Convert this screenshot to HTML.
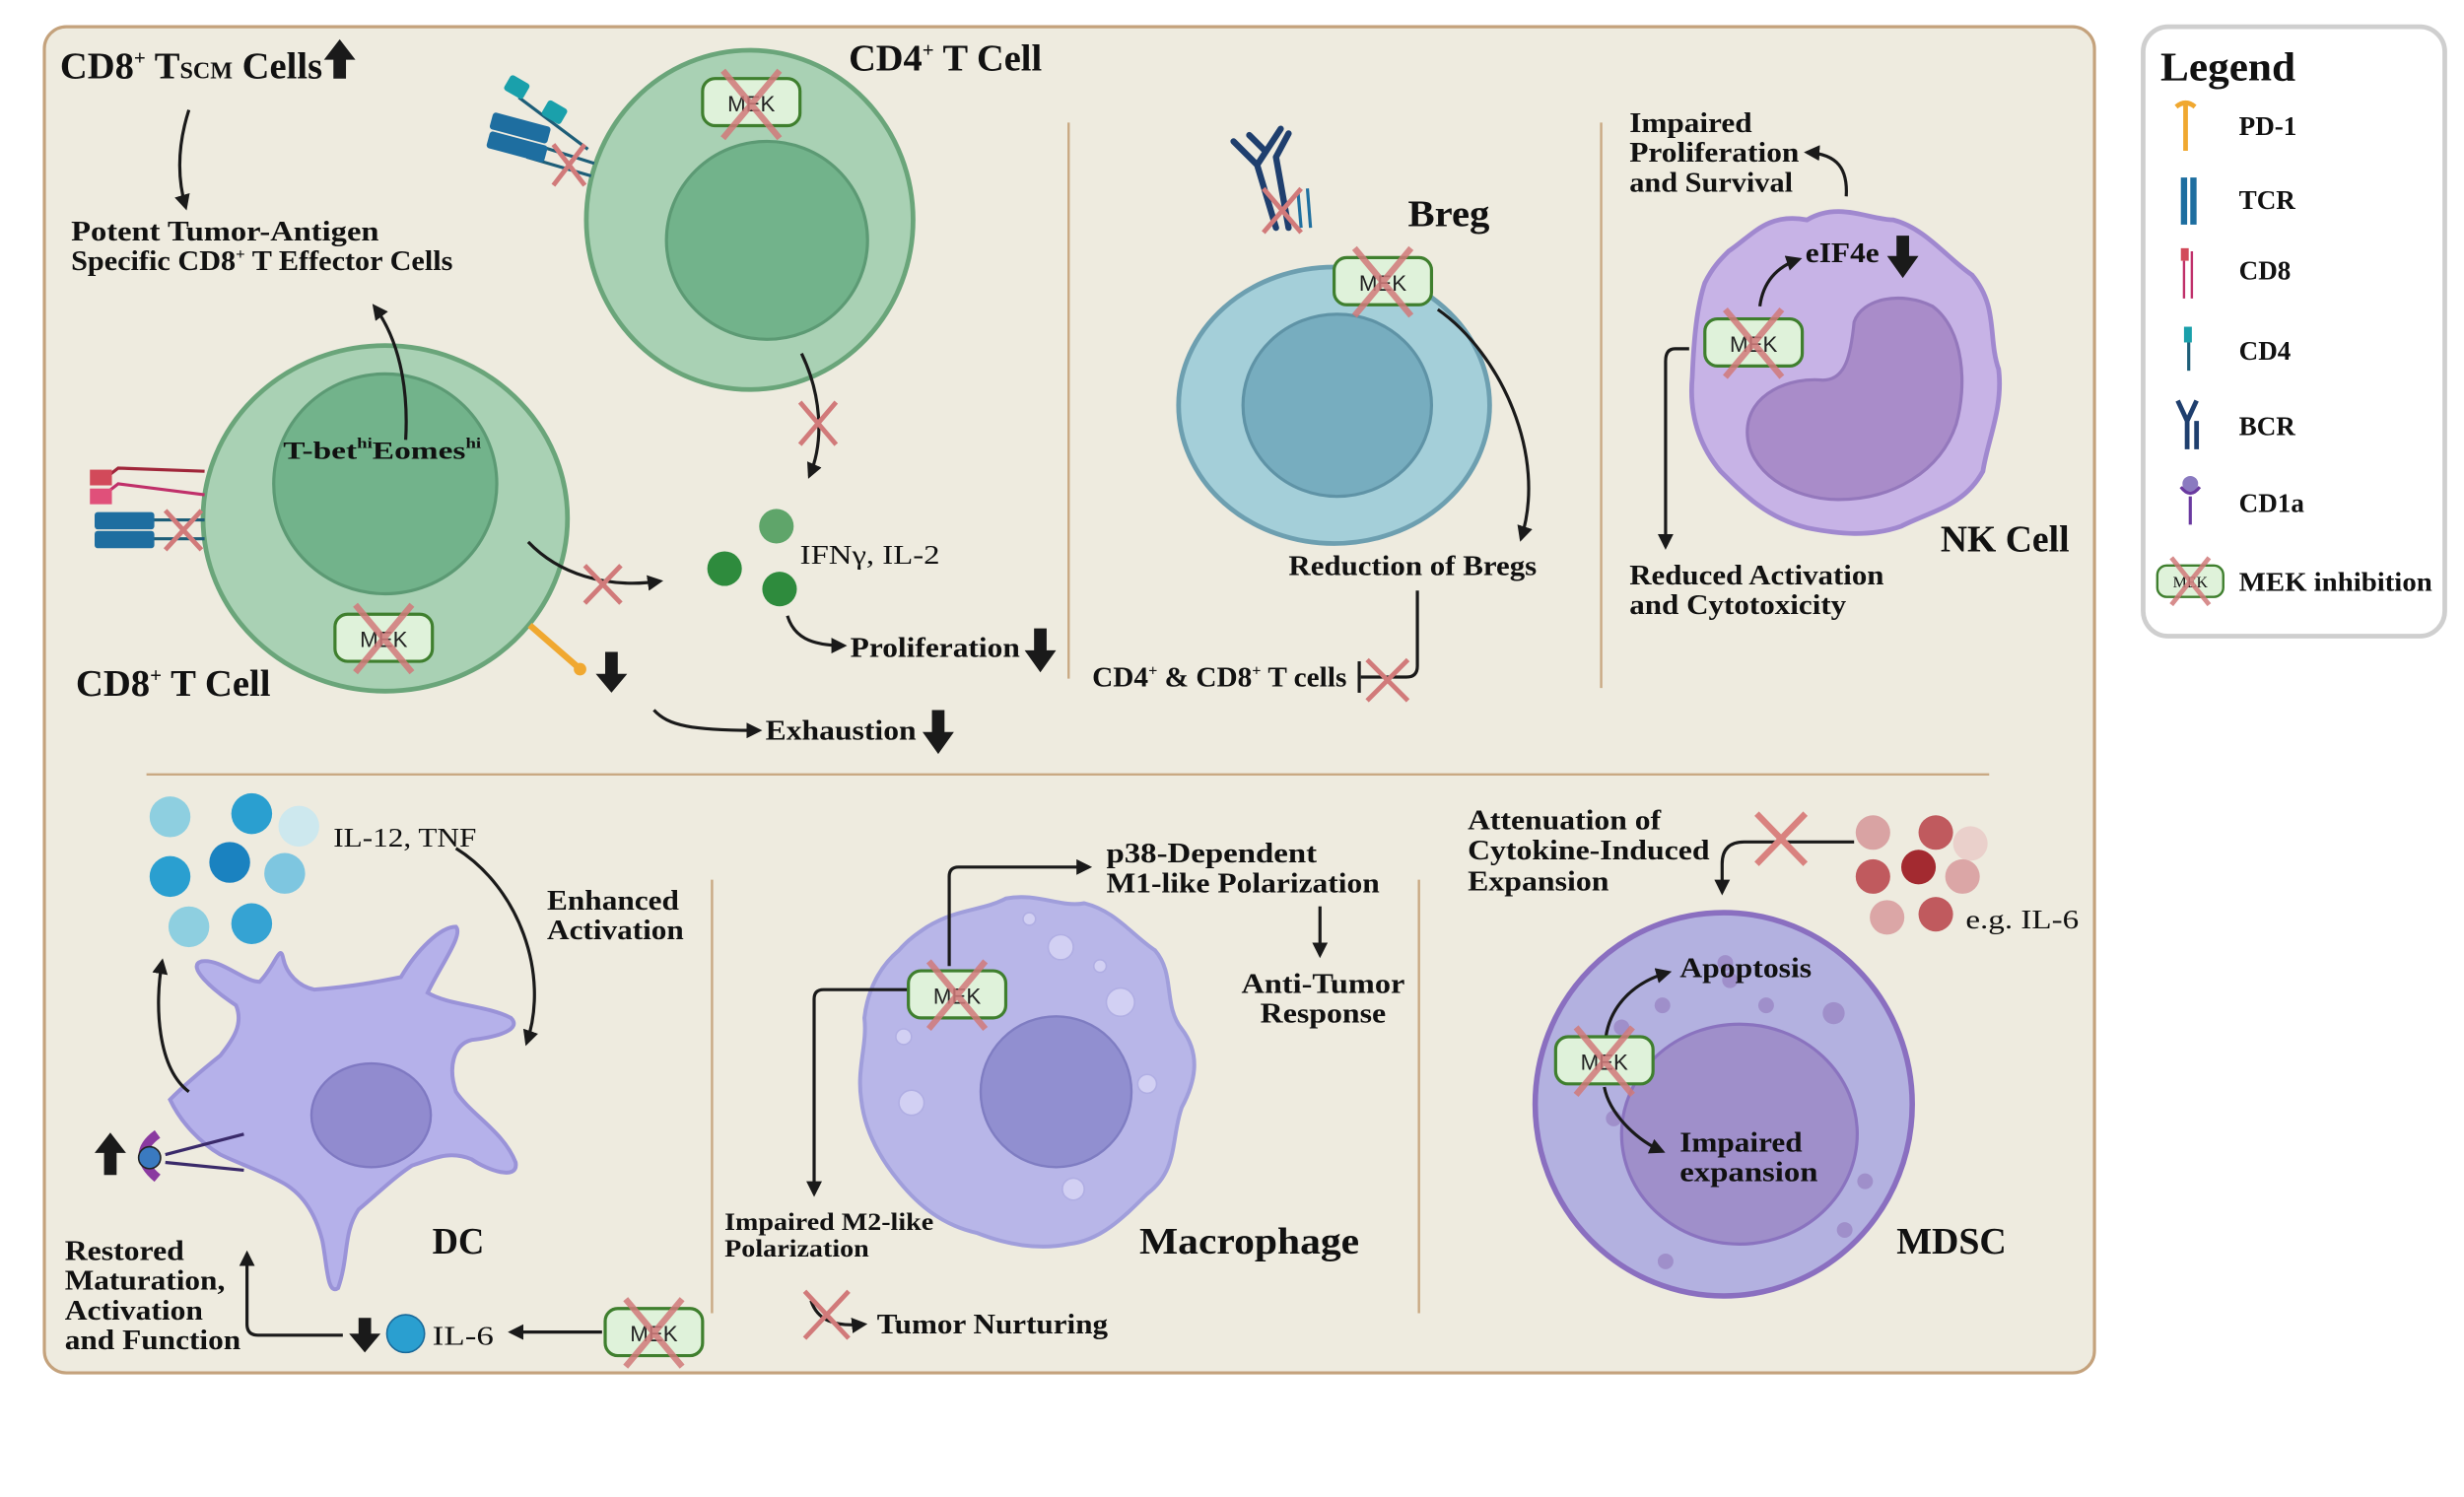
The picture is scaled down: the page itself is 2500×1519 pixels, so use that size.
<!DOCTYPE html>
<html><head><meta charset="utf-8"><style>
html,body{margin:0;padding:0;background:#fff;width:2500px;height:1519px;overflow:hidden}
svg{display:block}
text{font-family:"Liberation Serif",serif;fill:#111}
.b{font-weight:bold}
.m{font-family:"Liberation Sans",sans-serif;font-size:14px;fill:#222}
</style></head><body>
<svg width="2500" height="1519" viewBox="0 0 1568 953" xmlns="http://www.w3.org/2000/svg">
<defs>
<marker id="a" viewBox="0 0 10 10" refX="8" refY="5" markerWidth="5" markerHeight="5" orient="auto"><path d="M0,0L10,5L0,10z" fill="#1a1a1a"/></marker>
</defs>
<rect x="28" y="17" width="1305" height="857" rx="14" fill="#eeebdf" stroke="#c4a27c" stroke-width="2"/>
<g stroke="#c9a983" stroke-width="1.5">
<line x1="680" y1="78" x2="680" y2="432"/><line x1="1019" y1="78" x2="1019" y2="438"/>
<line x1="93" y1="493" x2="1266" y2="493"/>
<line x1="453" y1="560" x2="453" y2="836"/><line x1="903" y1="560" x2="903" y2="836"/>
</g>

<text x="38" y="50" class="b" font-size="24" textLength="167" lengthAdjust="spacingAndGlyphs">CD8<tspan font-size="13" dy="-9">+</tspan><tspan dy="9"> T</tspan><tspan font-size="15">SCM</tspan> Cells</text>
<path d="M212,50V38h-6l10,-13l10,13h-6v12z" fill="#1a1a1a"/>
<path d="M120,70C112,95 113,115 118,132" stroke="#1a1a1a" stroke-width="2" fill="none" marker-end="url(#a)"/>
<text x="45" y="153" class="b" font-size="18" textLength="196" lengthAdjust="spacingAndGlyphs">Potent Tumor-Antigen</text>
<text x="45" y="172" class="b" font-size="18" textLength="243" lengthAdjust="spacingAndGlyphs">Specific CD8<tspan font-size="10" dy="-7">+</tspan><tspan dy="7"> T Effector Cells</tspan></text>

<ellipse cx="477" cy="140" rx="104" ry="108" fill="#a9d1b4" stroke="#6aa57a" stroke-width="3"/>
<ellipse cx="488" cy="153" rx="64" ry="63" fill="#72b38b" stroke="#5c9a74" stroke-width="2"/>
<text x="540" y="45" class="b" font-size="24" textLength="123" lengthAdjust="spacingAndGlyphs">CD4<tspan font-size="13" dy="-9">+</tspan><tspan dy="9"> T Cell</tspan></text>
<rect x="447" y="50" width="62" height="30" rx="8" fill="#dff2da" stroke="#3f7f2e" stroke-width="2"/>
<text x="478" y="71" class="m" text-anchor="middle">MEK</text>
<path d="M460,45L496,88M496,45L460,88" stroke="#d17a7a" stroke-width="4" opacity=".85"/>
<g stroke="#1e5e78" stroke-width="2"><line x1="330" y1="62" x2="374" y2="95"/><line x1="340" y1="92" x2="378" y2="104"/><line x1="335" y1="100" x2="376" y2="112"/></g>
<g fill="#1aa0ab"><rect x="322" y="50" width="14" height="11" rx="2" transform="rotate(30 329 55)"/><rect x="346" y="66" width="14" height="11" rx="2" transform="rotate(30 353 71)"/></g>
<g fill="#1e6ea0"><rect x="312" y="76" width="38" height="11" rx="2" transform="rotate(15 331 81)"/><rect x="310" y="88" width="38" height="11" rx="2" transform="rotate(15 329 93)"/></g>
<path d="M352,92L372,118M372,92L352,118" stroke="#d17a7a" stroke-width="3"/>
<path d="M510,225C522,250 525,280 515,303" stroke="#1a1a1a" stroke-width="2" fill="none" marker-end="url(#a)"/>
<path d="M509,256L532,283M532,256L509,283" stroke="#d17a7a" stroke-width="3"/>

<ellipse cx="245" cy="330" rx="116" ry="110" fill="#a9d1b4" stroke="#6aa57a" stroke-width="3"/>
<ellipse cx="245" cy="308" rx="71" ry="70" fill="#72b38b" stroke="#5c9a74" stroke-width="2"/>
<path d="M258,280C260,245 253,215 238,195" stroke="#1a1a1a" stroke-width="2" fill="none" marker-end="url(#a)"/>
<text x="180" y="292" class="b" font-size="16" textLength="126" lengthAdjust="spacingAndGlyphs">T-bet<tspan font-size="9" dy="-7">hi</tspan><tspan dy="7">Eomes</tspan><tspan font-size="9" dy="-7">hi</tspan></text>
<rect x="213" y="391" width="62" height="30" rx="8" fill="#dff2da" stroke="#3f7f2e" stroke-width="2"/>
<text x="244" y="412" class="m" text-anchor="middle">MEK</text>
<path d="M226,385L262,428M262,385L226,428" stroke="#d17a7a" stroke-width="4" opacity=".85"/>
<text x="48" y="443" class="b" font-size="24" textLength="124" lengthAdjust="spacingAndGlyphs">CD8<tspan font-size="13" dy="-9">+</tspan><tspan dy="9"> T Cell</tspan></text>
<g stroke="#a0263a" stroke-width="2" fill="none"><path d="M66,305L75,298L130,300"/><path d="M66,315L75,308L130,315" stroke="#c0306a"/></g>
<rect x="57" y="299" width="14" height="10" fill="#d24a5a"/><rect x="57" y="311" width="14" height="10" fill="#e0507a"/>
<g stroke="#1e5e78" stroke-width="2"><line x1="95" y1="331" x2="130" y2="331"/><line x1="95" y1="343" x2="130" y2="343"/></g>
<rect x="60" y="326" width="38" height="11" rx="2" fill="#1e6ea0"/><rect x="60" y="338" width="38" height="11" rx="2" fill="#1e6ea0"/>
<path d="M105,325L128,350M128,325L105,350" stroke="#d17a7a" stroke-width="3"/>
<path d="M336,345C355,365 385,375 420,370" stroke="#1a1a1a" stroke-width="2" fill="none" marker-end="url(#a)"/>
<path d="M372,360L395,384M395,360L372,384" stroke="#d17a7a" stroke-width="3"/>
<line x1="337" y1="398" x2="368" y2="425" stroke="#f0a830" stroke-width="4"/><circle cx="369" cy="426" r="4" fill="#f0a830"/>
<path d="M385,415h8v14h6l-10,12l-10,-12h6z" fill="#1a1a1a"/>
<circle cx="494" cy="335" r="11" fill="#5fa56a"/><circle cx="461" cy="362" r="11" fill="#2e8b3d"/><circle cx="496" cy="375" r="11" fill="#2e8b3d"/>
<text x="509" y="359" font-size="17" textLength="89" lengthAdjust="spacingAndGlyphs">IFNγ, IL-2</text>
<path d="M501,392C505,405 515,411 537,411" stroke="#1a1a1a" stroke-width="2" fill="none" marker-end="url(#a)"/>
<text x="541" y="418" class="b" font-size="18" textLength="108" lengthAdjust="spacingAndGlyphs">Proliferation</text>
<path d="M658,400h8v14h6l-10,14l-10,-14h6z" fill="#1a1a1a"/>
<path d="M416,452C425,462 440,465 483,465" stroke="#1a1a1a" stroke-width="2" fill="none" marker-end="url(#a)"/>
<text x="487" y="471" class="b" font-size="18" textLength="96" lengthAdjust="spacingAndGlyphs">Exhaustion</text>
<path d="M593,452h8v14h6l-10,14l-10,-14h6z" fill="#1a1a1a"/>

<ellipse cx="849" cy="258" rx="99" ry="88" fill="#a4cfd9" stroke="#6d9fb0" stroke-width="3"/>
<ellipse cx="851" cy="258" rx="60" ry="58" fill="#77adbf" stroke="#5f93a6" stroke-width="2"/>
<text x="896" y="144" class="b" font-size="24" textLength="52" lengthAdjust="spacingAndGlyphs">Breg</text>
<g stroke="#1f3f6e" stroke-width="4" fill="none" stroke-linecap="round"><path d="M785,90L800,105L815,82M800,105L812,145"/><path d="M795,86L805,96M820,85L812,100M812,100L820,145"/></g>
<g stroke="#2070a0" stroke-width="2"><line x1="826" y1="122" x2="828" y2="145"/><line x1="832" y1="120" x2="834" y2="145"/></g>
<path d="M804,120L828,148M828,120L804,148" stroke="#d17a7a" stroke-width="3"/>
<rect x="849" y="164" width="62" height="30" rx="8" fill="#dff2da" stroke="#3f7f2e" stroke-width="2"/>
<text x="880" y="185" class="m" text-anchor="middle">MEK</text>
<path d="M862,158L898,201M898,158L862,201" stroke="#d17a7a" stroke-width="4" opacity=".85"/>
<path d="M915,197C955,225 985,290 968,343" stroke="#1a1a1a" stroke-width="2" fill="none" marker-end="url(#a)"/>
<text x="820" y="366" class="b" font-size="18" textLength="158" lengthAdjust="spacingAndGlyphs">Reduction of Bregs</text>
<path d="M902,376V424Q902,431 895,431H866" stroke="#1a1a1a" stroke-width="2" fill="none"/>
<line x1="865" y1="421" x2="865" y2="441" stroke="#1a1a1a" stroke-width="2"/>
<path d="M870,420L896,446M896,420L870,446" stroke="#d17a7a" stroke-width="3"/>
<text x="695" y="437" class="b" font-size="18" textLength="162" lengthAdjust="spacingAndGlyphs">CD4<tspan font-size="10" dy="-7">+</tspan><tspan dy="7"> &amp; CD8</tspan><tspan font-size="10" dy="-7">+</tspan><tspan dy="7"> T cells</tspan></text>

<path d="M1100,160C1115,150 1125,135 1150,140C1170,128 1190,140 1205,140C1225,145 1240,165 1255,175C1272,195 1265,215 1272,235C1275,260 1265,280 1262,300C1250,322 1230,325 1210,335C1190,342 1170,340 1150,336C1125,330 1110,315 1095,300C1080,282 1075,262 1077,240C1078,215 1080,195 1085,180C1090,170 1095,165 1100,160Z" fill="#c7b3e6" stroke="#a088cf" stroke-width="3"/>
<path d="M1180,205C1185,190 1210,185 1230,195C1250,210 1252,245 1245,270C1235,300 1205,318 1170,318C1140,318 1112,300 1112,275C1112,250 1140,240 1160,242C1175,242 1178,225 1180,205Z" fill="#a98cc9" stroke="#9478bc" stroke-width="2"/>
<text x="1235" y="351" class="b" font-size="24" textLength="82" lengthAdjust="spacingAndGlyphs">NK Cell</text>
<text x="1037" y="84" class="b" font-size="18" textLength="78" lengthAdjust="spacingAndGlyphs">Impaired</text>
<text x="1037" y="103" class="b" font-size="18" textLength="108" lengthAdjust="spacingAndGlyphs">Proliferation</text>
<text x="1037" y="122" class="b" font-size="18" textLength="104" lengthAdjust="spacingAndGlyphs">and Survival</text>
<path d="M1175,125C1176,108 1170,98 1150,97" stroke="#1a1a1a" stroke-width="2" fill="none" marker-end="url(#a)"/>
<text x="1149" y="167" class="b" font-size="18" textLength="47" lengthAdjust="spacingAndGlyphs">eIF4e</text>
<path d="M1120,195C1122,180 1130,170 1145,165" stroke="#1a1a1a" stroke-width="2" fill="none" marker-end="url(#a)"/>
<path d="M1207,150h8v13h6l-10,14l-10,-14h6z" fill="#1a1a1a"/>
<rect x="1085" y="203" width="62" height="30" rx="8" fill="#dff2da" stroke="#3f7f2e" stroke-width="2"/>
<text x="1116" y="224" class="m" text-anchor="middle">MEK</text>
<path d="M1098,197L1134,240M1134,197L1098,240" stroke="#d17a7a" stroke-width="4" opacity=".85"/>
<path d="M1075,222H1066Q1060,222 1060,230V348" stroke="#1a1a1a" stroke-width="2" fill="none" marker-end="url(#a)"/>
<text x="1037" y="372" class="b" font-size="18" textLength="162" lengthAdjust="spacingAndGlyphs">Reduced Activation</text>
<text x="1037" y="391" class="b" font-size="18" textLength="138" lengthAdjust="spacingAndGlyphs">and Cytotoxicity</text>

<rect x="1364" y="17" width="192" height="388" rx="16" fill="#fff" stroke="#cfcfcf" stroke-width="3"/>
<text x="1375" y="51" class="b" font-size="26" textLength="86" lengthAdjust="spacingAndGlyphs">Legend</text>
<line x1="1391" y1="66" x2="1391" y2="96" stroke="#f0a830" stroke-width="3"/><path d="M1385,68Q1391,63 1397,68" stroke="#f0a830" stroke-width="3" fill="none"/>
<rect x="1388" y="113" width="4" height="30" fill="#1e6ea0"/><rect x="1394" y="113" width="4" height="30" fill="#1e6ea0"/>
<rect x="1388" y="158" width="5" height="8" fill="#d24a5a"/><path d="M1390,166V190M1395,160L1395,190" stroke="#c0306a" stroke-width="1.5"/>
<rect x="1390" y="208" width="5" height="10" fill="#1aa0ab"/><line x1="1393" y1="218" x2="1393" y2="236" stroke="#1e5e78" stroke-width="2"/>
<path d="M1386,255L1392,268L1398,255M1392,268V286M1398,268V286" stroke="#1f3f6e" stroke-width="3" fill="none"/>
<circle cx="1394" cy="308" r="5" fill="#8a7ac0"/><path d="M1388,310Q1394,318 1400,310" stroke="#6a3aa0" stroke-width="2" fill="none"/><line x1="1394" y1="316" x2="1394" y2="334" stroke="#6a3aa0" stroke-width="2"/>
<rect x="1373" y="360" width="42" height="20" rx="6" fill="#dff2da" stroke="#3f7f2e" stroke-width="1.5"/>
<text x="1394" y="374" font-family="Liberation Sans" font-size="10" text-anchor="middle" fill="#222">MEK</text>
<path d="M1382,355L1406,385M1406,355L1382,385" stroke="#d17a7a" stroke-width="3" opacity=".85"/>
<g class="b" font-size="17"><text x="1425" y="86" class="b">PD-1</text><text x="1425" y="133" class="b">TCR</text><text x="1425" y="178" class="b">CD8</text><text x="1425" y="229" class="b">CD4</text><text x="1425" y="277" class="b">BCR</text><text x="1425" y="326" class="b">CD1a</text><text x="1425" y="376" class="b" textLength="123" lengthAdjust="spacingAndGlyphs">MEK inhibition</text></g>

<circle cx="108" cy="520" r="13" fill="#8ecfe0"/><circle cx="160" cy="518" r="13" fill="#2a9fd0"/><circle cx="190" cy="526" r="13" fill="#cde8ee"/>
<circle cx="108" cy="558" r="13" fill="#2a9fd0"/><circle cx="146" cy="549" r="13" fill="#1a82c0"/><circle cx="181" cy="556" r="13" fill="#7ec6e0"/>
<circle cx="120" cy="590" r="13" fill="#8ecfe0"/><circle cx="160" cy="588" r="13" fill="#35a3d3"/>
<text x="212" y="539" font-size="17" textLength="91" lengthAdjust="spacingAndGlyphs">IL-12, TNF</text>
<path d="M290,540C330,565 350,620 335,664" stroke="#1a1a1a" stroke-width="2" fill="none" marker-end="url(#a)"/>
<text x="348" y="579" class="b" font-size="18" textLength="84" lengthAdjust="spacingAndGlyphs">Enhanced</text>
<text x="348" y="598" class="b" font-size="18" textLength="87" lengthAdjust="spacingAndGlyphs">Activation</text>
<path d="M150,640C135,630 118,615 128,612C140,610 155,625 165,625C175,615 178,600 180,610C182,620 190,628 200,630C225,628 240,625 255,622C265,605 280,590 290,590C295,595 280,615 272,632C285,640 310,640 325,648C332,655 318,660 300,662C288,665 285,680 290,695C300,710 320,720 328,740C330,752 310,745 300,738C285,732 275,738 262,742C250,750 240,760 228,770C218,785 222,800 215,820C208,825 208,805 205,790C200,770 190,758 178,752C165,745 150,740 140,735C128,728 115,715 108,700C118,690 130,680 140,672C148,662 155,652 150,640Z" fill="#b5b1ea" stroke="#9a93d8" stroke-width="2.5"/>
<ellipse cx="236" cy="710" rx="38" ry="33" fill="#918bcf" stroke="#7f79c2" stroke-width="1.5"/>
<path d="M120,695C100,680 98,640 103,612" stroke="#1a1a1a" stroke-width="2" fill="none" marker-end="url(#a)"/>
<path d="M66,748v-14h-6l10,-13l10,13h-6v14z" fill="#1a1a1a"/>
<line x1="105" y1="735" x2="155" y2="722" stroke="#3a2a6a" stroke-width="2"/><line x1="105" y1="740" x2="155" y2="745" stroke="#3a2a6a" stroke-width="2"/>
<path d="M100,722Q82,735 100,750" stroke="#8a3aa0" stroke-width="6" fill="none"/>
<circle cx="95" cy="737" r="7" fill="#3a7ac0" stroke="#222" stroke-width="1"/>
<text x="275" y="798" class="b" font-size="24" textLength="33" lengthAdjust="spacingAndGlyphs">DC</text>
<text x="41" y="802" class="b" font-size="18" textLength="76" lengthAdjust="spacingAndGlyphs">Restored</text>
<text x="41" y="821" class="b" font-size="18" textLength="102" lengthAdjust="spacingAndGlyphs">Maturation,</text>
<text x="41" y="840" class="b" font-size="18" textLength="88" lengthAdjust="spacingAndGlyphs">Activation</text>
<text x="41" y="859" class="b" font-size="18" textLength="112" lengthAdjust="spacingAndGlyphs">and Function</text>
<path d="M218,850H164Q157,850 157,843V798" stroke="#1a1a1a" stroke-width="2" fill="none" marker-end="url(#a)"/>
<path d="M228,839h8v10h6l-10,12l-10,-12h6z" fill="#1a1a1a"/>
<circle cx="258" cy="849" r="12" fill="#2a9fd0" stroke="#1a6a9a" stroke-width="1"/>
<text x="275" y="856" font-size="17" textLength="39" lengthAdjust="spacingAndGlyphs">IL-6</text>
<line x1="383" y1="848" x2="325" y2="848" stroke="#1a1a1a" stroke-width="2" marker-end="url(#a)"/>
<rect x="385" y="833" width="62" height="30" rx="8" fill="#dff2da" stroke="#3f7f2e" stroke-width="2"/>
<text x="416" y="854" class="m" text-anchor="middle">MEK</text>
<path d="M398,827L434,870M434,827L398,870" stroke="#d17a7a" stroke-width="4" opacity=".85"/>

<path d="M590,590C610,578 625,580 640,572C660,568 675,578 690,575C710,580 720,595 735,605C748,620 740,640 752,655C765,672 760,690 752,705C745,725 750,745 730,760C715,775 700,790 680,792C660,796 640,792 622,785C600,780 585,768 572,752C558,735 550,718 548,700C545,680 552,665 550,648C552,630 560,615 572,605C578,598 584,594 590,590Z" fill="#b8b6e8" stroke="#a09edb" stroke-width="2.5"/>
<circle cx="672" cy="695" r="48" fill="#918fd0" stroke="#7f7dc2" stroke-width="1.5"/>
<g fill="#d2d0f3" stroke="#b0aee3"><circle cx="675" cy="603" r="8"/><circle cx="713" cy="638" r="9"/><circle cx="730" cy="690" r="6"/><circle cx="580" cy="702" r="8"/><circle cx="683" cy="757" r="7"/><circle cx="575" cy="660" r="5"/><circle cx="655" cy="585" r="4"/><circle cx="700" cy="615" r="4"/></g>
<text x="725" y="798" class="b" font-size="24" textLength="140" lengthAdjust="spacingAndGlyphs">Macrophage</text>
<path d="M604,615V558Q604,552 610,552H693" stroke="#1a1a1a" stroke-width="2" fill="none" marker-end="url(#a)"/>
<text x="704" y="549" class="b" font-size="18" textLength="134" lengthAdjust="spacingAndGlyphs">p38-Dependent</text>
<text x="704" y="568" class="b" font-size="18" textLength="174" lengthAdjust="spacingAndGlyphs">M1-like Polarization</text>
<line x1="840" y1="577" x2="840" y2="608" stroke="#1a1a1a" stroke-width="2" marker-end="url(#a)"/>
<text x="842" y="632" class="b" font-size="18" text-anchor="middle" textLength="104" lengthAdjust="spacingAndGlyphs">Anti-Tumor</text>
<text x="842" y="651" class="b" font-size="18" text-anchor="middle" textLength="80" lengthAdjust="spacingAndGlyphs">Response</text>
<path d="M578,630H524Q518,630 518,636V760" stroke="#1a1a1a" stroke-width="2" fill="none" marker-end="url(#a)"/>
<rect x="578" y="618" width="62" height="30" rx="8" fill="#dff2da" stroke="#3f7f2e" stroke-width="2"/>
<text x="609" y="639" class="m" text-anchor="middle">MEK</text>
<path d="M591,612L627,655M627,612L591,655" stroke="#d17a7a" stroke-width="4" opacity=".85"/>
<text x="461" y="783" class="b" font-size="16" textLength="133" lengthAdjust="spacingAndGlyphs">Impaired M2-like</text>
<text x="461" y="800" class="b" font-size="16" textLength="92" lengthAdjust="spacingAndGlyphs">Polarization</text>
<path d="M516,828C520,840 530,845 550,843" stroke="#1a1a1a" stroke-width="2" fill="none" marker-end="url(#a)"/>
<path d="M512,822L540,852M540,822L512,852" stroke="#d17a7a" stroke-width="3"/>
<text x="558" y="849" class="b" font-size="18" textLength="147" lengthAdjust="spacingAndGlyphs">Tumor Nurturing</text>

<ellipse cx="1097" cy="703" rx="120" ry="122" fill="#b3b1e0" stroke="#8a6fc0" stroke-width="3.5"/>
<ellipse cx="1107" cy="722" rx="75" ry="70" fill="#9f8fca" stroke="#8a73bf" stroke-width="2"/>
<g fill="#9f8fca"><circle cx="1032" cy="654" r="5"/><circle cx="1101" cy="624" r="5"/><circle cx="1058" cy="640" r="5"/><circle cx="1167" cy="645" r="7"/><circle cx="1124" cy="640" r="5"/><circle cx="1027" cy="712" r="5"/><circle cx="1187" cy="752" r="5"/><circle cx="1174" cy="783" r="5"/><circle cx="1060" cy="803" r="5"/><circle cx="1098" cy="613" r="5"/></g>
<path d="M1022,660C1025,640 1040,625 1062,619" stroke="#1a1a1a" stroke-width="2" fill="none" marker-end="url(#a)"/>
<path d="M1021,692C1024,708 1040,725 1058,733" stroke="#1a1a1a" stroke-width="2" fill="none" marker-end="url(#a)"/>
<rect x="990" y="660" width="62" height="30" rx="8" fill="#dff2da" stroke="#3f7f2e" stroke-width="2"/>
<text x="1021" y="681" class="m" text-anchor="middle">MEK</text>
<path d="M1003,654L1039,697M1039,654L1003,697" stroke="#d17a7a" stroke-width="4" opacity=".85"/>
<text x="1069" y="622" class="b" font-size="18" textLength="84" lengthAdjust="spacingAndGlyphs">Apoptosis</text>
<text x="1069" y="733" class="b" font-size="18" textLength="78" lengthAdjust="spacingAndGlyphs">Impaired</text>
<text x="1069" y="752" class="b" font-size="18" textLength="88" lengthAdjust="spacingAndGlyphs">expansion</text>
<text x="1207" y="798" class="b" font-size="24" textLength="70" lengthAdjust="spacingAndGlyphs">MDSC</text>
<text x="934" y="528" class="b" font-size="18" textLength="123" lengthAdjust="spacingAndGlyphs">Attenuation of</text>
<text x="934" y="547" class="b" font-size="18" textLength="154" lengthAdjust="spacingAndGlyphs">Cytokine-Induced</text>
<text x="934" y="567" class="b" font-size="18" textLength="90" lengthAdjust="spacingAndGlyphs">Expansion</text>
<path d="M1180,536H1110Q1096,536 1096,550V568" stroke="#1a1a1a" stroke-width="2" fill="none" marker-end="url(#a)"/>
<path d="M1118,518L1149,550M1149,518L1118,550" stroke="#d9827f" stroke-width="4"/>
<circle cx="1192" cy="530" r="11" fill="#d9a3a3"/><circle cx="1232" cy="530" r="11" fill="#c05a5e"/><circle cx="1254" cy="537" r="11" fill="#ead0cb"/>
<circle cx="1192" cy="558" r="11" fill="#c05a5e"/><circle cx="1221" cy="552" r="11" fill="#a32a30"/><circle cx="1249" cy="558" r="11" fill="#dba6a6"/>
<circle cx="1201" cy="584" r="11" fill="#dba6a6"/><circle cx="1232" cy="582" r="11" fill="#c05a5e"/>
<text x="1251" y="591" font-size="17" textLength="72" lengthAdjust="spacingAndGlyphs">e.g. IL-6</text>
</svg>
</body></html>
